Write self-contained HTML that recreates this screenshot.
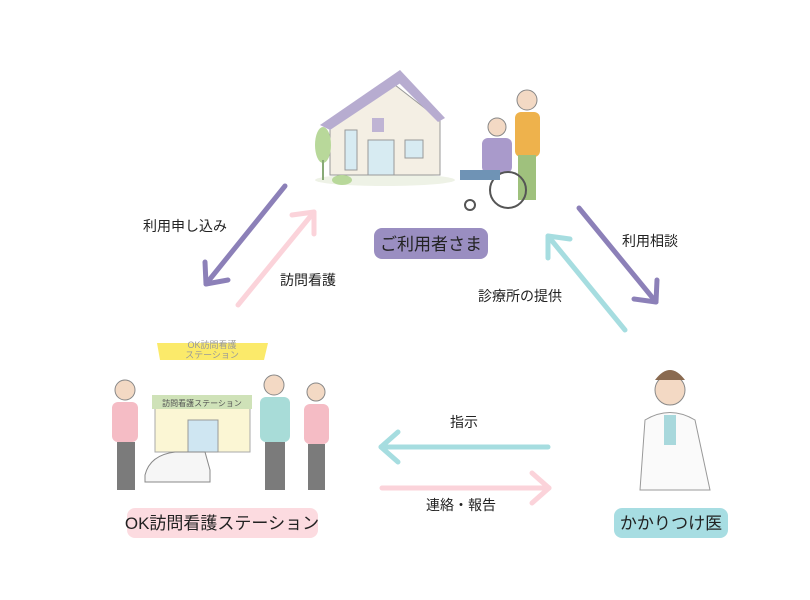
<!DOCTYPE html>
<html><head><meta charset="utf-8"><style>
body{margin:0;background:#fff;}
svg{display:block;font-family:"Liberation Sans","Noto Sans CJK JP",sans-serif;}
</style></head><body>
<svg width="810" height="600" viewBox="0 0 810 600" xmlns="http://www.w3.org/2000/svg">
<g fill="none" stroke-width="5" stroke-linecap="round" stroke-linejoin="round">
<!-- purple 1 -->
<path d="M285 186 L206 284" stroke="#8c80b8"/>
<path d="M205 262 L206 284 L228 280" stroke="#8c80b8"/>
<!-- pink 1 -->
<path d="M238 305 L314 212" stroke="#fbd3da"/>
<path d="M292 215 L314 212 L314 234" stroke="#fbd3da"/>
<!-- purple 2 -->
<path d="M579 208 L656 302" stroke="#8c80b8"/>
<path d="M634 299 L656 302 L657 280" stroke="#8c80b8"/>
<!-- cyan 1 -->
<path d="M625 330 L548 236" stroke="#a6dde0"/>
<path d="M570 239 L548 236 L548 258" stroke="#a6dde0"/>
<!-- cyan horizontal -->
<path d="M548 447 L381 447" stroke="#a6dde0"/>
<path d="M398 432 L381 447 L398 462" stroke="#a6dde0"/>
<!-- pink horizontal -->
<path d="M382 488 L549 488" stroke="#fbd3da"/>
<path d="M532 473 L549 488 L532 503" stroke="#fbd3da"/>
</g>
<g font-size="14" fill="#222">
<text x="143" y="231">利用申し込み</text>
<text x="280" y="285">訪問看護</text>
<text x="622" y="246">利用相談</text>
<text x="478" y="301">診療所の提供</text>
<text x="450" y="427">指示</text>
<text x="426" y="510">連絡・報告</text>
</g>
<!-- house -->
<g>
<ellipse cx="385" cy="180" rx="70" ry="6" fill="#eef2e6"/>
<path d="M330 120 L395 85 L440 120 L440 175 L330 175 Z" fill="#f4efe4" stroke="#999" stroke-width="1"/>
<path d="M320 125 L400 70 L405 80 L330 130 Z" fill="#b7acd0"/>
<path d="M400 70 L445 118 L438 122 L398 82 Z" fill="#b7acd0"/>
<rect x="345" y="130" width="12" height="40" fill="#d7ebf2" stroke="#999" stroke-width="1"/>
<rect x="368" y="140" width="26" height="35" fill="#d7ebf2" stroke="#999" stroke-width="1"/>
<rect x="372" y="118" width="12" height="14" fill="#bfb4d4"/>
<rect x="405" y="140" width="18" height="18" fill="#d7ebf2" stroke="#999" stroke-width="1"/>
<ellipse cx="323" cy="145" rx="8" ry="18" fill="#b8d89a"/>
<rect x="322" y="160" width="2" height="20" fill="#8a7"/>
<ellipse cx="342" cy="180" rx="10" ry="5" fill="#b8d89a"/>
<!-- wheelchair people -->
<circle cx="527" cy="100" r="10" fill="#f3d9c4" stroke="#888" stroke-width="1"/>
<rect x="515" y="112" width="25" height="45" rx="6" fill="#eeb24c"/>
<rect x="518" y="155" width="18" height="45" fill="#9fc17d"/>
<circle cx="497" cy="127" r="9" fill="#f3d9c4" stroke="#888" stroke-width="1"/>
<rect x="482" y="138" width="30" height="35" rx="6" fill="#a99acb"/>
<circle cx="508" cy="190" r="18" fill="none" stroke="#555" stroke-width="2"/>
<rect x="460" y="170" width="40" height="10" fill="#6f93b5"/>
<circle cx="470" cy="205" r="5" fill="none" stroke="#555" stroke-width="2"/>
</g>
<rect x="374" y="228" width="114" height="31" rx="8" fill="#9a8ec1"/>
<text x="431" y="250" font-size="17" text-anchor="middle" fill="#222">ご利用者さま</text>
<!-- station -->
<g>
<path d="M157 343 L268 343 L264 360 L160 360 Z" fill="#fbea6a"/>
<text x="212" y="348" font-size="9" fill="#999" text-anchor="middle">OK訪問看護</text>
<text x="212" y="358" font-size="9" fill="#999" text-anchor="middle">ステーション</text>
<rect x="155" y="397" width="95" height="55" fill="#fbf6d4" stroke="#aaa" stroke-width="1"/>
<rect x="152" y="395" width="100" height="14" fill="#cfe2b8"/>
<text x="202" y="406" font-size="8" fill="#555" text-anchor="middle">訪問看護ステーション</text>
<rect x="188" y="420" width="30" height="32" fill="#cfe6f2" stroke="#999" stroke-width="1"/>
<path d="M145 475 Q150 455 175 452 L205 452 L210 470 L210 482 L145 482 Z" fill="#f6f6f6" stroke="#888" stroke-width="1"/>
<circle cx="125" cy="390" r="10" fill="#f3d9c4" stroke="#888" stroke-width="1"/>
<rect x="112" y="402" width="26" height="40" rx="6" fill="#f5bcc5"/>
<rect x="117" y="442" width="18" height="48" fill="#7b7b7b"/>
<circle cx="274" cy="385" r="10" fill="#f3d9c4" stroke="#888" stroke-width="1"/>
<rect x="260" y="397" width="30" height="45" rx="6" fill="#a8dcd8"/>
<rect x="265" y="442" width="20" height="48" fill="#7b7b7b"/>
<circle cx="316" cy="392" r="9" fill="#f3d9c4" stroke="#888" stroke-width="1"/>
<rect x="304" y="404" width="25" height="40" rx="6" fill="#f5bcc5"/>
<rect x="308" y="444" width="17" height="46" fill="#7b7b7b"/>
</g>
<rect x="127" y="508" width="191" height="30" rx="8" fill="#fcdbe0"/>
<text x="222" y="529" font-size="17" text-anchor="middle" fill="#222">OK訪問看護ステーション</text>
<!-- doctor -->
<g>
<circle cx="670" cy="390" r="15" fill="#f3d9c4" stroke="#888" stroke-width="1"/>
<path d="M655 380 Q670 360 685 380" fill="#8a6a50"/>
<path d="M640 490 L645 420 Q670 405 695 420 L710 490 Z" fill="#fafafa" stroke="#999" stroke-width="1"/>
<rect x="664" y="415" width="12" height="30" fill="#a8d8dc"/>
</g>
<rect x="614" y="508" width="114" height="30" rx="8" fill="#a7dde2"/>
<text x="671" y="529" font-size="17" text-anchor="middle" fill="#222">かかりつけ医</text>
</svg>
</body></html>
